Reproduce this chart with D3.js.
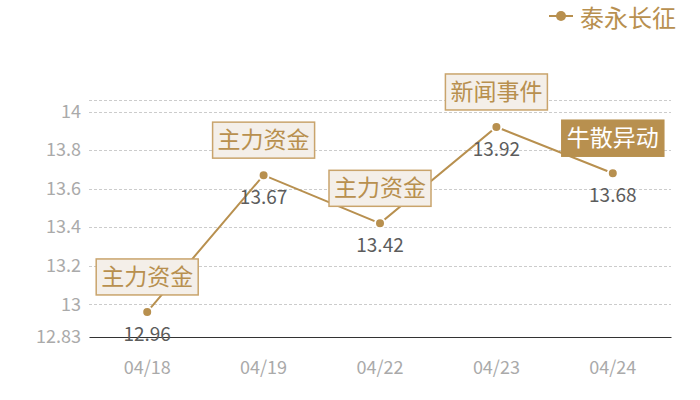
<!DOCTYPE html>
<html>
<head>
<meta charset="utf-8">
<script src="https://cdn.jsdelivr.net/npm/d3@7"></script>
<style>
  body { margin: 0; background: #fff; }
  svg { font-family: "Noto Sans CJK SC", "Noto Sans", sans-serif; }
</style>
</head>
<body>
<div id="chart"></div>
<script>
// data
var dates = ["04/18", "04/19", "04/22", "04/23", "04/24"];
var prices = [12.96, 13.67, 13.42, 13.92, 13.68];
var events = ["主力资金", "主力资金", "主力资金", "新闻事件", "牛散异动"];
var yTicks = [12.83, 13, 13.2, 13.4, 13.6, 13.8, 14];
var seriesName = "泰永长征";
var highlightDate = "04/24";

var width = 700,
    height = 400,
    margin = {top: 100, right: 29, bottom: 63, left: 89};

var gold = "#b8904f";

var svg = d3.select("#chart").append("svg")
    .attr("width", width)
    .attr("height", height);

var x = d3.scaleBand()
    .domain(dates)
    .range([margin.left, width - margin.right]);

var y = d3.scaleLinear()
    .domain([d3.min(yTicks), 14.06])
    .range([height - margin.bottom, margin.top]);

// dashed grid lines, including the top of the plot
var gridVals = yTicks.slice(1).concat([y.domain()[1]]);
svg.append("g")
  .selectAll("line")
  .data(gridVals)
  .enter().append("line")
    .attr("x1", margin.left)
    .attr("x2", width - margin.right)
    .attr("y1", function(d) { return Math.round(y(d)) + 0.5; })
    .attr("y2", function(d) { return Math.round(y(d)) + 0.5; })
    .attr("stroke", "#cccccc")
    .attr("stroke-dasharray", "3,2");

// y axis labels
var yAxis = svg.append("g")
    .attr("transform", "translate(" + margin.left + ",0)")
    .call(d3.axisLeft(y).tickValues(yTicks).tickSize(0).tickPadding(8).tickFormat(function(d) { return d; }));
yAxis.select(".domain").remove();
yAxis.selectAll("text")
    .attr("fill", "#aaaaaa")
    .style("font-size", "18px")
    .style("font-family", "'Noto Sans CJK SC', sans-serif");

// x axis
var xAxis = svg.append("g")
    .attr("transform", "translate(0," + (height - margin.bottom) + ")")
    .call(d3.axisBottom(x).tickSize(0).tickPadding(24));
xAxis.select(".domain")
    .attr("stroke", "#333333")
    .attr("stroke-width", 1.2);
xAxis.selectAll("text")
    .attr("fill", "#aaaaaa")
    .style("font-size", "18px")
    .style("font-family", "'Noto Sans CJK SC', sans-serif");

var pts = dates.map(function(d, i) {
  return {date: d, value: prices[i], event: events[i]};
});

function cx(d) { return x(d.date) + x.bandwidth() / 2; }

// price line
svg.append("path")
    .datum(pts)
    .attr("fill", "none")
    .attr("stroke", gold)
    .attr("stroke-width", 2)
    .attr("d", d3.line().x(cx).y(function(d) { return y(d.value); }));

// markers
svg.selectAll(".dot")
    .data(pts)
  .enter().append("circle")
    .attr("class", "dot")
    .attr("cx", cx)
    .attr("cy", function(d) { return y(d.value); })
    .attr("r", 5)
    .attr("fill", gold)
    .attr("stroke", "#fff")
    .attr("stroke-width", 2);

// value labels
svg.selectAll(".val")
    .data(pts)
  .enter().append("text")
    .attr("class", "val")
    .attr("x", cx)
    .attr("y", function(d) { return y(d.value) + 29; })
    .attr("text-anchor", "middle")
    .attr("fill", "#5c5c5c")
    .style("font-size", "19px")
    .text(function(d) { return d.value.toFixed(2); });

// event boxes
var ev = svg.selectAll(".ev")
    .data(pts)
  .enter().append("g")
    .attr("class", "ev")
    .attr("transform", function(d) { return "translate(" + cx(d) + "," + (y(d.value) - 17) + ")"; });

ev.append("rect")
    .attr("x", -51)
    .attr("y", -36)
    .attr("width", 102)
    .attr("height", 36)
    .attr("fill", function(d) { return d.date === highlightDate ? gold : "#f4efe9"; })
    .attr("stroke", function(d) { return d.date === highlightDate ? gold : "#c9a46c"; })
    .attr("stroke-width", 1.5);

ev.append("text")
    .attr("x", 0)
    .attr("y", -10)
    .attr("text-anchor", "middle")
    .attr("fill", function(d) { return d.date === highlightDate ? "#fff" : gold; })
    .style("font-size", "23px")
    .text(function(d) { return d.event; });

// legend
var lg = svg.append("g").attr("transform", "translate(549,16)");
lg.append("line")
    .attr("x1", 0).attr("x2", 24)
    .attr("stroke", gold).attr("stroke-width", 2);
lg.append("circle")
    .attr("cx", 12).attr("r", 5)
    .attr("fill", gold);
lg.append("text")
    .attr("x", 31)
    .attr("y", 11)
    .attr("fill", gold)
    .style("font-size", "24px")
    .text(seriesName);
</script>
</body>
</html>
